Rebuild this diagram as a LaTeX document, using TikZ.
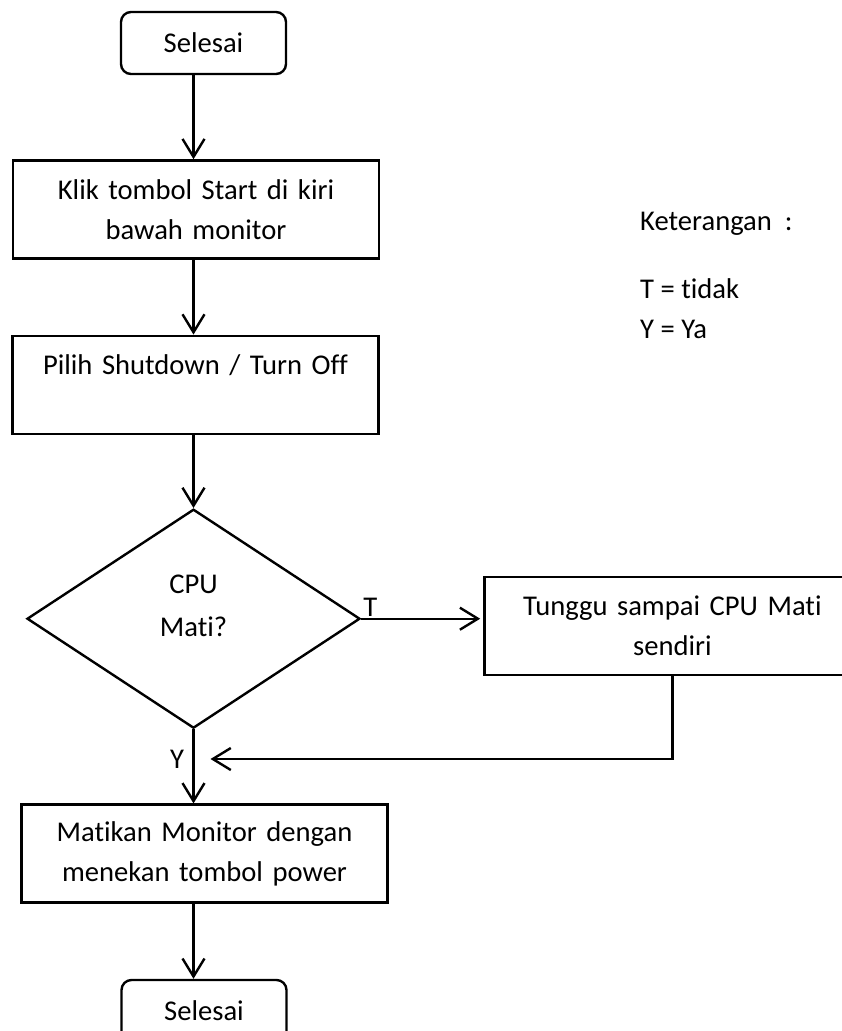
\documentclass[tikz,border=0pt]{standalone}
\usepackage{fontspec}
\setmainfont{Carlito}[RawFeature=-liga]
\usetikzlibrary{positioning, shapes.geometric, arrows.meta, calc}

\tikzset{
	terminal/.style={draw, rectangle, rounded corners=10pt, minimum width=165pt, minimum height=62pt, inner sep=0pt},
	proses/.style={draw, rectangle, align=center, text width=366pt, minimum height=98pt, inner sep=0pt},
	keputusan/.style={draw, diamond, align=center, minimum width=333pt, minimum height=219pt, inner sep=0pt},
	ket/.style={anchor=base west, inner sep=0pt},
	panah/.style={-{Straight Barb[length=18pt, width=22pt]}}
}

\begin{document}
\begin{tikzpicture}[x=1pt, y=1pt, line width=2.4pt, font=\fontsize{28.6}{40}\selectfont]
	\useasboundingbox (0,0) rectangle (842,-1031);
	\clip (0,0) rectangle (842,-1031);
	
	\node[terminal] (start) at (203.5,-43) {Selesai};
	
	\node[proses, below=84pt of start, xshift=-7.5pt] (klik) {Klik tombol Start di kiri\\bawah monitor};
	
	\node[proses, below=75pt of klik, xshift=-0.5pt] (pilih) {Pilih Shutdown / Turn Off\\\mbox{}};
	
	\node[keputusan, below=73pt of pilih, xshift=-2pt, label={[align=center, yshift=13pt]center:CPU\\[3pt]Mati?}] (cond) {};
	
	\node[proses, right=122pt of cond, yshift=-7.5pt, text width=376pt] (tunggu) {Tunggu sampai CPU Mati\\sendiri};
	
	\node[proses, below=74pt of cond, xshift=11pt] (matikan) {Matikan Monitor dengan\\menekan tombol power};
	
	\node[terminal, below=75pt of matikan, xshift=-0.5pt] (end) {Selesai};
	
	% keterangan
	\node[ket] (keterangan) at (639,-230) {Keterangan~~:};
	\node[ket] (ketT) at (639,-298) {T = tidak};
	\node[ket] (ketY) at (639,-338) {Y = Ya};
	
	\coordinate (balik) at ($(cond.south)!0.4!(cond.south |- matikan.north) + (17,0)$);
	
	\draw[panah] (start.south -| cond) -- (klik.north -| cond);
	
	\draw[panah] (klik.south -| cond) -- (pilih.north -| cond);
	
	\draw[panah] (pilih.south -| cond) -- (cond.north);
	
	\draw[panah, shorten >=3pt] (cond.east) -- node[pos=0, above right, inner sep=1pt] {T} (cond.east -| tunggu.west);
	
	\draw[panah] (cond.south) -- node[pos=0.4, left=5pt] {Y} (matikan.north -| cond);
	
	\draw[panah] (tunggu.south) |- (balik);
	
	\draw[panah] (matikan.south -| cond) -- (end.north -| cond);
\end{tikzpicture}
\end{document}
